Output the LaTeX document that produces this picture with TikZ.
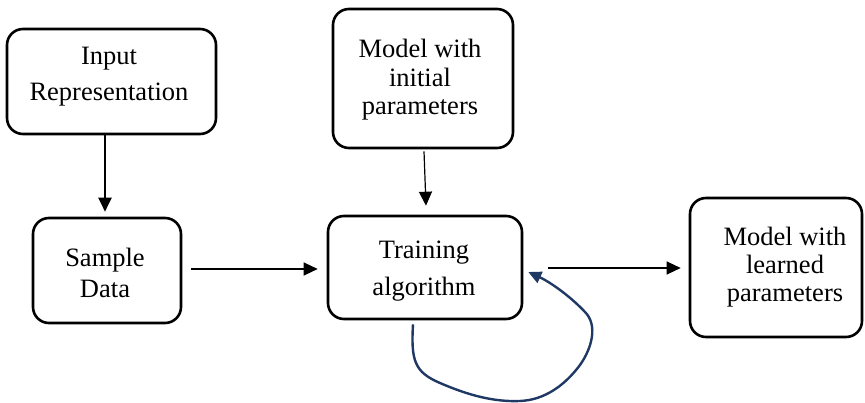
\documentclass[tikz,border=0pt]{standalone}
\usepackage{fontspec}
\setmainfont{Liberation Serif}
\usetikzlibrary{arrows.meta,calc}
\definecolor{loopblue}{HTML}{1F3864}
\tikzset{
  box/.style={draw=black, line width=2.6pt, rounded corners=16pt, inner sep=0pt},
  lbl/.style={align=center, inner sep=0pt, text=black},
  conn/.style={line width=1.2pt, -{Triangle[length=14pt,width=13pt]}},
  loopconn/.style={draw=loopblue, line width=2.4pt, -{Triangle[length=13pt,width=12pt]}}
}
\begin{document}
\begin{tikzpicture}[x=1pt,y=-1pt]
\path[use as bounding box] (0,0) rectangle (865,403);

% boxes
\node[box, minimum width=209pt, minimum height=105pt] (inrep)   at (111.5,81.5) {};
\node[box, minimum width=148pt, minimum height=105pt] (sample)  at (107,270.5) {};
\node[box, minimum width=180pt, minimum height=139pt] (init)    at (423,78.5) {};
\node[box, minimum width=194pt, minimum height=103pt] (train)   at (425,267.5) {};
\node[box, minimum width=172pt, minimum height=139pt] (learned) at (776,267.5) {};

% box texts
\node[lbl, font=\fontsize{26.5}{36}\selectfont] (inreptxt) at (109,77) {Input\\Representation};
\node[lbl, font=\fontsize{26.5}{31}\selectfont] (sampletxt) at (105,273) {Sample\\Data};
\node[lbl, font=\fontsize{26.5}{28.5}\selectfont] (inittxt) at (420,80) {Model with\\initial\\parameters};
\node[lbl, font=\fontsize{26.5}{37}\selectfont] (traintxt) at (424,271) {Training\\algorithm};
\node[lbl, font=\fontsize{26.5}{28}\selectfont] (learnedtxt) at (785,267) {Model with\\learned\\parameters};

% connectors
\draw[conn, line width=2pt] ($(inrep.south)+(-6.5,0)$) -- ($(sample.north)+(-2,-5)$);
\draw[conn] ($(sample.east)+(9,-1.5)$) -- ($(train.west)+(-9,1.5)$);
\draw[conn] ($(init.south)+(1,2)$) -- ($(train.north)+(1,-9)$);
\draw[conn] ($(train.east)+(25,0.5)$) -- ($(learned.west)+(-8,0.5)$);

% feedback loop
\draw[loopconn] ($(train.south)+(-12,4)$)
  .. controls (411,360) and (414,372) .. (440,383)
  .. controls (470,396) and (495,402) .. (520,401)
  .. controls (545,400) and (565,385) .. (580,365)
  .. controls (592,348) and (598,325) .. (585,312)
  .. controls (570,296) and (550,282) .. ($(train.east)+(5,4.5)$);
\end{tikzpicture}
\end{document}
